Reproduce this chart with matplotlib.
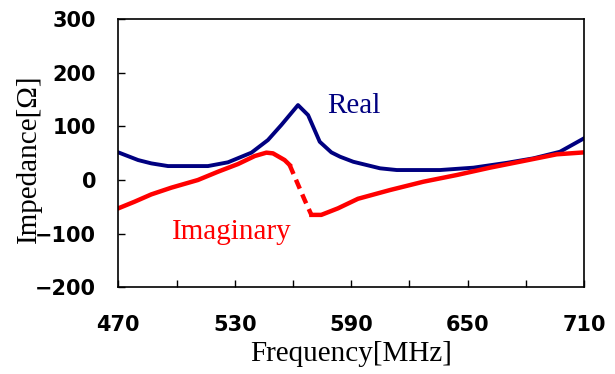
import matplotlib
matplotlib.use("Agg")
import matplotlib.pyplot as plt

# Real part
real_f = [470, 480.2, 487, 495.6, 516.2, 526.5, 538.6, 547.1, 554, 562.6, 567.8,
          573.8, 579.8, 584.3, 591.1, 604.9, 613.5, 635.8, 653, 670.2, 683.9, 697.6, 710]
real_v = [51.5, 37.2, 31, 26, 26, 33, 51, 74.5, 102.5, 139.7, 121,
          71.3, 51.5, 43.4, 34, 21.8, 18.6, 18.6, 23, 32, 40.4, 52.7, 77.7]

# Imaginary part (solid before the jump)
imag1_f = [470, 478.4, 487, 497.3, 511, 521.4, 531.7, 540.3, 546.3, 549.7, 555.7, 558.3]
imag1_v = [-52.8, -40.4, -26.8, -14.3, 0, 15.5, 29.8, 44.7, 51, 49.7, 37.2, 28]
# dashed jump
imag2_f = [558.3, 560.9, 566, 569.5]
imag2_v = [28, 6, -37, -65]
# solid after the jump
imag3_f = [569.5, 574.6, 583.2, 593.5, 610, 627.2, 644.4, 661.5, 678.7, 695.9, 710]
imag3_v = [-65, -65, -52.8, -35, -18.7, -3.2, 9.3, 23, 35.4, 47.9, 51.5]

xticks = [470, 500, 530, 560, 590, 620, 650, 680, 710]
xlabels = ["470", "", "530", "", "590", "", "650", "", "710"]
yticks = [-200, -100, 0, 100, 200, 300]
ylabels = ["\u2212200", "\u2212100", "0", "100", "200", "300"]

fig = plt.figure(figsize=(6.15, 3.74), dpi=100)
ax = fig.add_axes([0.1924, 0.2318, 0.7572, 0.7172])

blue = "#000080"
red = "#ff0000"
ax.plot(real_f, real_v, color=blue, lw=2.8, solid_joinstyle="round")
ax.plot(imag1_f, imag1_v, color=red, lw=3.2, solid_joinstyle="round")
ax.plot(imag2_f, imag2_v, color=red, lw=3.2, dashes=(2.2, 1.4))
ax.plot(imag3_f, imag3_v, color=red, lw=3.2, solid_joinstyle="round")

ax.set_xlim(470, 710)
ax.set_ylim(-200, 300)
ax.set_xticks(xticks)
ax.set_xticklabels(xlabels)
ax.set_yticks(yticks)
ax.set_yticklabels(ylabels)
ax.tick_params(direction="in", length=5, width=1)
ax.tick_params(axis="x", pad=20)
ax.tick_params(axis="y", pad=16)
for lab in ax.get_xticklabels() + ax.get_yticklabels():
    lab.set_fontfamily("DejaVu Sans")
    lab.set_fontweight("bold")
    lab.set_fontsize(15)
for s in ax.spines.values():
    s.set_linewidth(1.2)

ax.set_xlabel("Frequency[MHz]", fontfamily="Liberation Serif", fontsize=21)
ax.xaxis.set_label_coords(0.5, -0.249)
ax.xaxis.label.set_verticalalignment("center")
ax.set_ylabel("Impedance[\u03a9]", fontfamily="Liberation Serif", fontsize=21)
ax.yaxis.set_label_coords(-0.192, 0.48)
ax.yaxis.label.set_verticalalignment("center")

ax.text(577.4, 124.3, "Real", color=blue, fontfamily="Liberation Serif", fontsize=21,
        ha="left", va="baseline")
ax.text(497.5, -110.6, "Imaginary", color=red, fontfamily="Liberation Serif", fontsize=21,
        ha="left", va="baseline")

fig.savefig("out.png", dpi=100)
